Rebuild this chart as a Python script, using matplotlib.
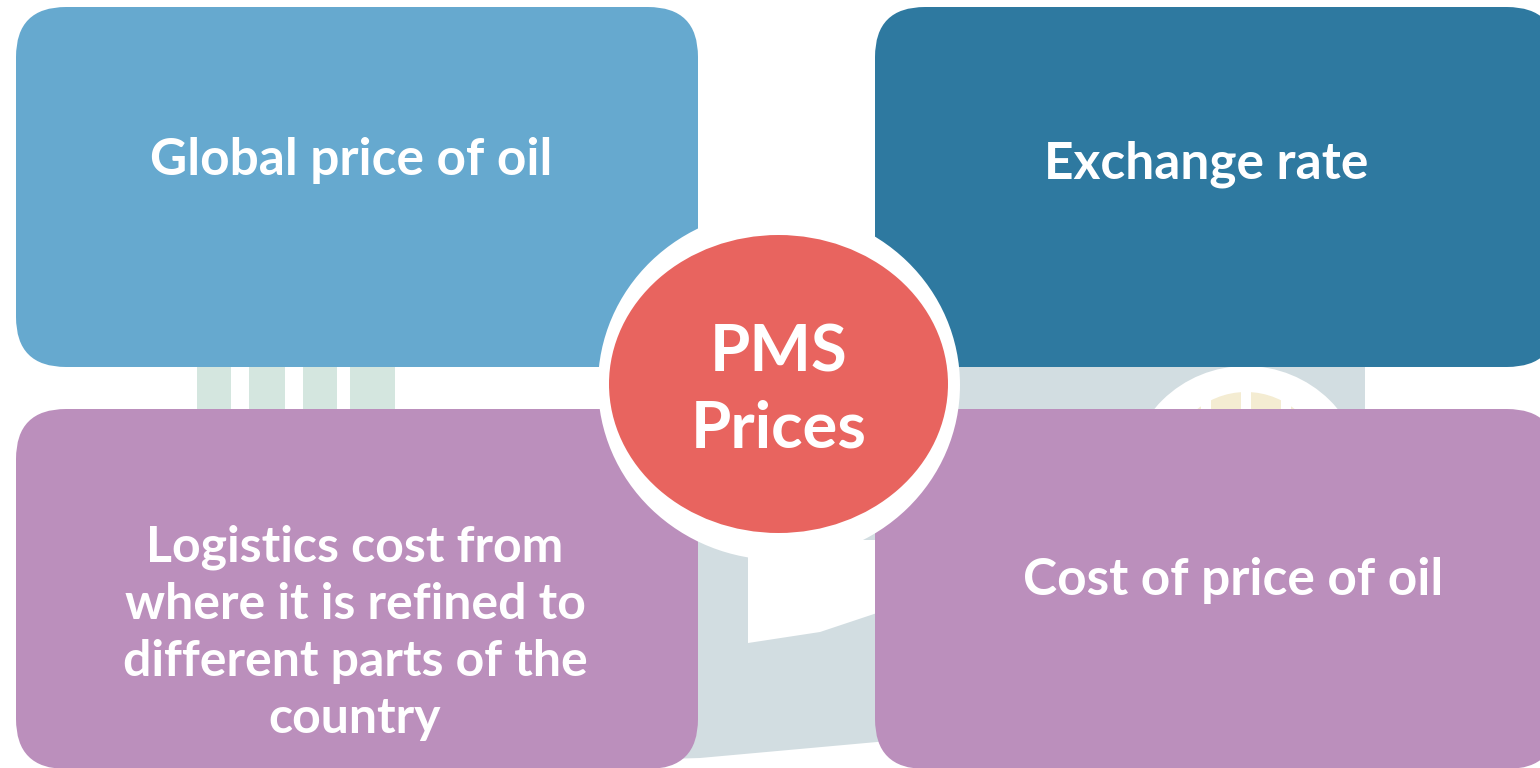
import matplotlib
matplotlib.use("Agg")
import matplotlib.pyplot as plt
from matplotlib.patches import FancyBboxPatch, Ellipse, Polygon, Rectangle, Circle

# box labels (top-left, top-right, bottom-left, bottom-right)
labels = [
    "Global price of oil",
    "Exchange rate",
    "Logistics cost from\nwhere it is refined to\ndifferent parts of the\ncountry",
    "Cost of price of oil",
]
box_colors = ["#66a9cf", "#2e79a0", "#bb8fbc", "#bb8fbc"]
center_label = "PMS\nPrices"
center_color = "#e8645f"

FONT = ["Lato", "DejaVu Sans"]

fig = plt.figure(figsize=(15.4, 7.68), dpi=100)
ax = fig.add_axes([0, 0, 1, 1])
ax.set_xlim(0, 1540)
ax.set_ylim(768, 0)
ax.axis("off")

# faint watermark behind the diagram
ax.add_patch(Polygon([(630, 330), (1365, 330), (1365, 690), (1100, 722),
                      (877, 742), (700, 758), (630, 760)],
                     closed=True, facecolor="#d2dde1", edgecolor="none", zorder=1))
ax.add_patch(Ellipse((1246, 482), 236, 232, facecolor="white", edgecolor="none", zorder=1.1))
ax.add_patch(Circle((1246, 470), 78, facecolor="#f4ecd2", edgecolor="none", zorder=1.2))
for dx in (-40, 0, 40):
    ax.add_patch(Rectangle((1246 + dx - 5, 380), 10, 40, facecolor="white",
                           edgecolor="none", zorder=1.3))
ax.add_patch(Polygon([(748, 540), (900, 540), (900, 605), (877, 613),
                      (820, 632), (748, 643)],
                     closed=True, facecolor="white", edgecolor="none", zorder=1.1))
for x0, x1 in [(197, 231), (249, 285), (303, 337), (350, 395)]:
    ax.add_patch(Rectangle((x0, 340), x1 - x0, 100, facecolor="#d4e6df",
                           edgecolor="none", zorder=1))

# four rounded boxes
box_xy = [(16, 7), (875, 7), (16, 409), (875, 409)]
box_w, box_h = 682, 360
for (x, y), c in zip(box_xy, box_colors):
    ax.add_patch(FancyBboxPatch((x, y), box_w, box_h,
                                boxstyle="round,pad=0,rounding_size=50",
                                facecolor=c, edgecolor="none", zorder=2))

# box texts: first-line baseline, one line after another
text_pos = [(351, 175), (1206, 178), (355, 562), (1233, 595)]
line_step = 57
for (tx, ty), lab in zip(text_pos, labels):
    lines = lab.split("\n")
    size = 37 if len(lines) == 1 else 36
    for i, line in enumerate(lines):
        ax.text(tx, ty + i * line_step, line, ha="center", va="baseline",
                color="white", fontsize=size, fontweight="bold", family=FONT,
                zorder=5)

# centre ellipse with white ring
ax.add_patch(Ellipse((779, 385), 362, 350, facecolor="white", edgecolor="none", zorder=3))
ax.add_patch(Ellipse((778.5, 384), 339, 298, facecolor=center_color, edgecolor="none", zorder=4))
for i, line in enumerate(center_label.split("\n")):
    ax.text(779, 371 + i * 76, line, ha="center", va="baseline", color="white",
            fontsize=47, fontweight="bold", family=FONT, zorder=5)

fig.savefig("out.png", dpi=100)
